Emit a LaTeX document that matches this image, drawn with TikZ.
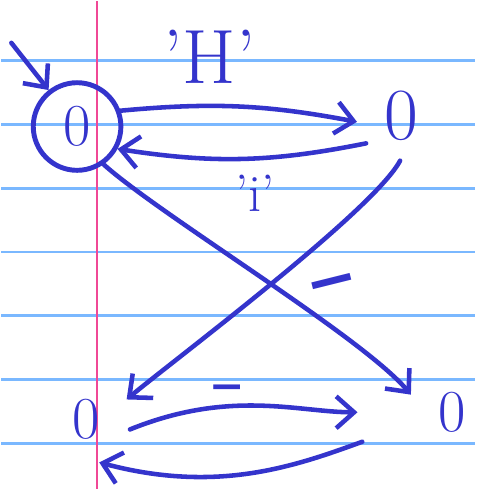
\documentclass[tikz,border=0pt]{standalone}
\usepackage{fontspec}
\usepackage{tikz}
\usetikzlibrary{positioning,arrows.meta,calc}
\newfontfamily\dashfont{DejaVu Sans}
\definecolor{inkc}{RGB}{52,52,204}
\definecolor{rulec}{RGB}{122,184,255}
\definecolor{marginc}{RGB}{240,72,150}
\tikzset{
  state/.style  = {circle, minimum size=18mm, inner sep=0pt, text=inkc,
                   font=\fontsize{34}{36}\selectfont},
  accept/.style = {state, draw=inkc, line width=2.8pt, minimum size=17.6mm},
  flow/.style   = {-{Straight Barb[length=3.6mm,width=6.4mm]}, line width=2.6pt,
                   draw=inkc, line cap=round},
  lbl/.style    = {text=inkc, font=\fontsize{30}{32}\selectfont, inner sep=0pt},
  ruled/.style  = {draw=rulec, line width=1.6pt},
}
\begin{document}
\begin{tikzpicture}

% paper
\fill[white] (0,0) rectangle (9.52,-9.80);
\foreach \y in {1.20,2.48,3.76,5.04,6.32,7.60,8.88}
  \draw[ruled] (0,-\y) -- (9.52,-\y);
\draw[marginc, line width=1.2pt] (1.92,0) -- (1.92,-9.80);
\useasboundingbox (0,0) rectangle (9.52,-9.80);

% states
\node[accept] (q0) at (1.52,-2.52) {0};
\node[state, font=\fontsize{42}{44}\selectfont] (q1) at (8.04,-2.30) {0};
\node[state] (q2) at (1.70,-8.40) {0};
\node[state] (q3) at (9.06,-8.26) {0};

\coordinate (init) at (0.20,-0.84);
\draw[flow] (init) -- (q0.128);

% transitions
\draw[flow] (q0.20) to[bend left=8] (q1.188);
\draw[flow] (q1.218) to[bend left=10] (q0.-29);
\draw[flow] (q0.-55) to[out=-42, in=130, looseness=0.5] (q3.157);
\draw[flow] (q1.-92) to[out=-118, in=40, looseness=0.4] (q2.26);
\draw[flow, shorten >=10mm] (q2.-13) to[out=22, in=180] (q3.180);
\draw[flow, shorten <=10mm] (q3.196) to[out=200, in=-15] (q2.-73);

% labels
\node[lbl, font=\fontsize{44}{46}\selectfont] (lH) at (4.18,-1.12) {'H'};
\node[lbl] (li) at (5.10,-3.86) {'i'};
\node[lbl, font=\fontsize{56}{58}\dashfont, rotate=14] (ld1) at (6.70,-5.86) {–};
\node[lbl, font=\fontsize{38}{40}\dashfont] (ld2) at (4.54,-7.92) {–};

\end{tikzpicture}
\end{document}
